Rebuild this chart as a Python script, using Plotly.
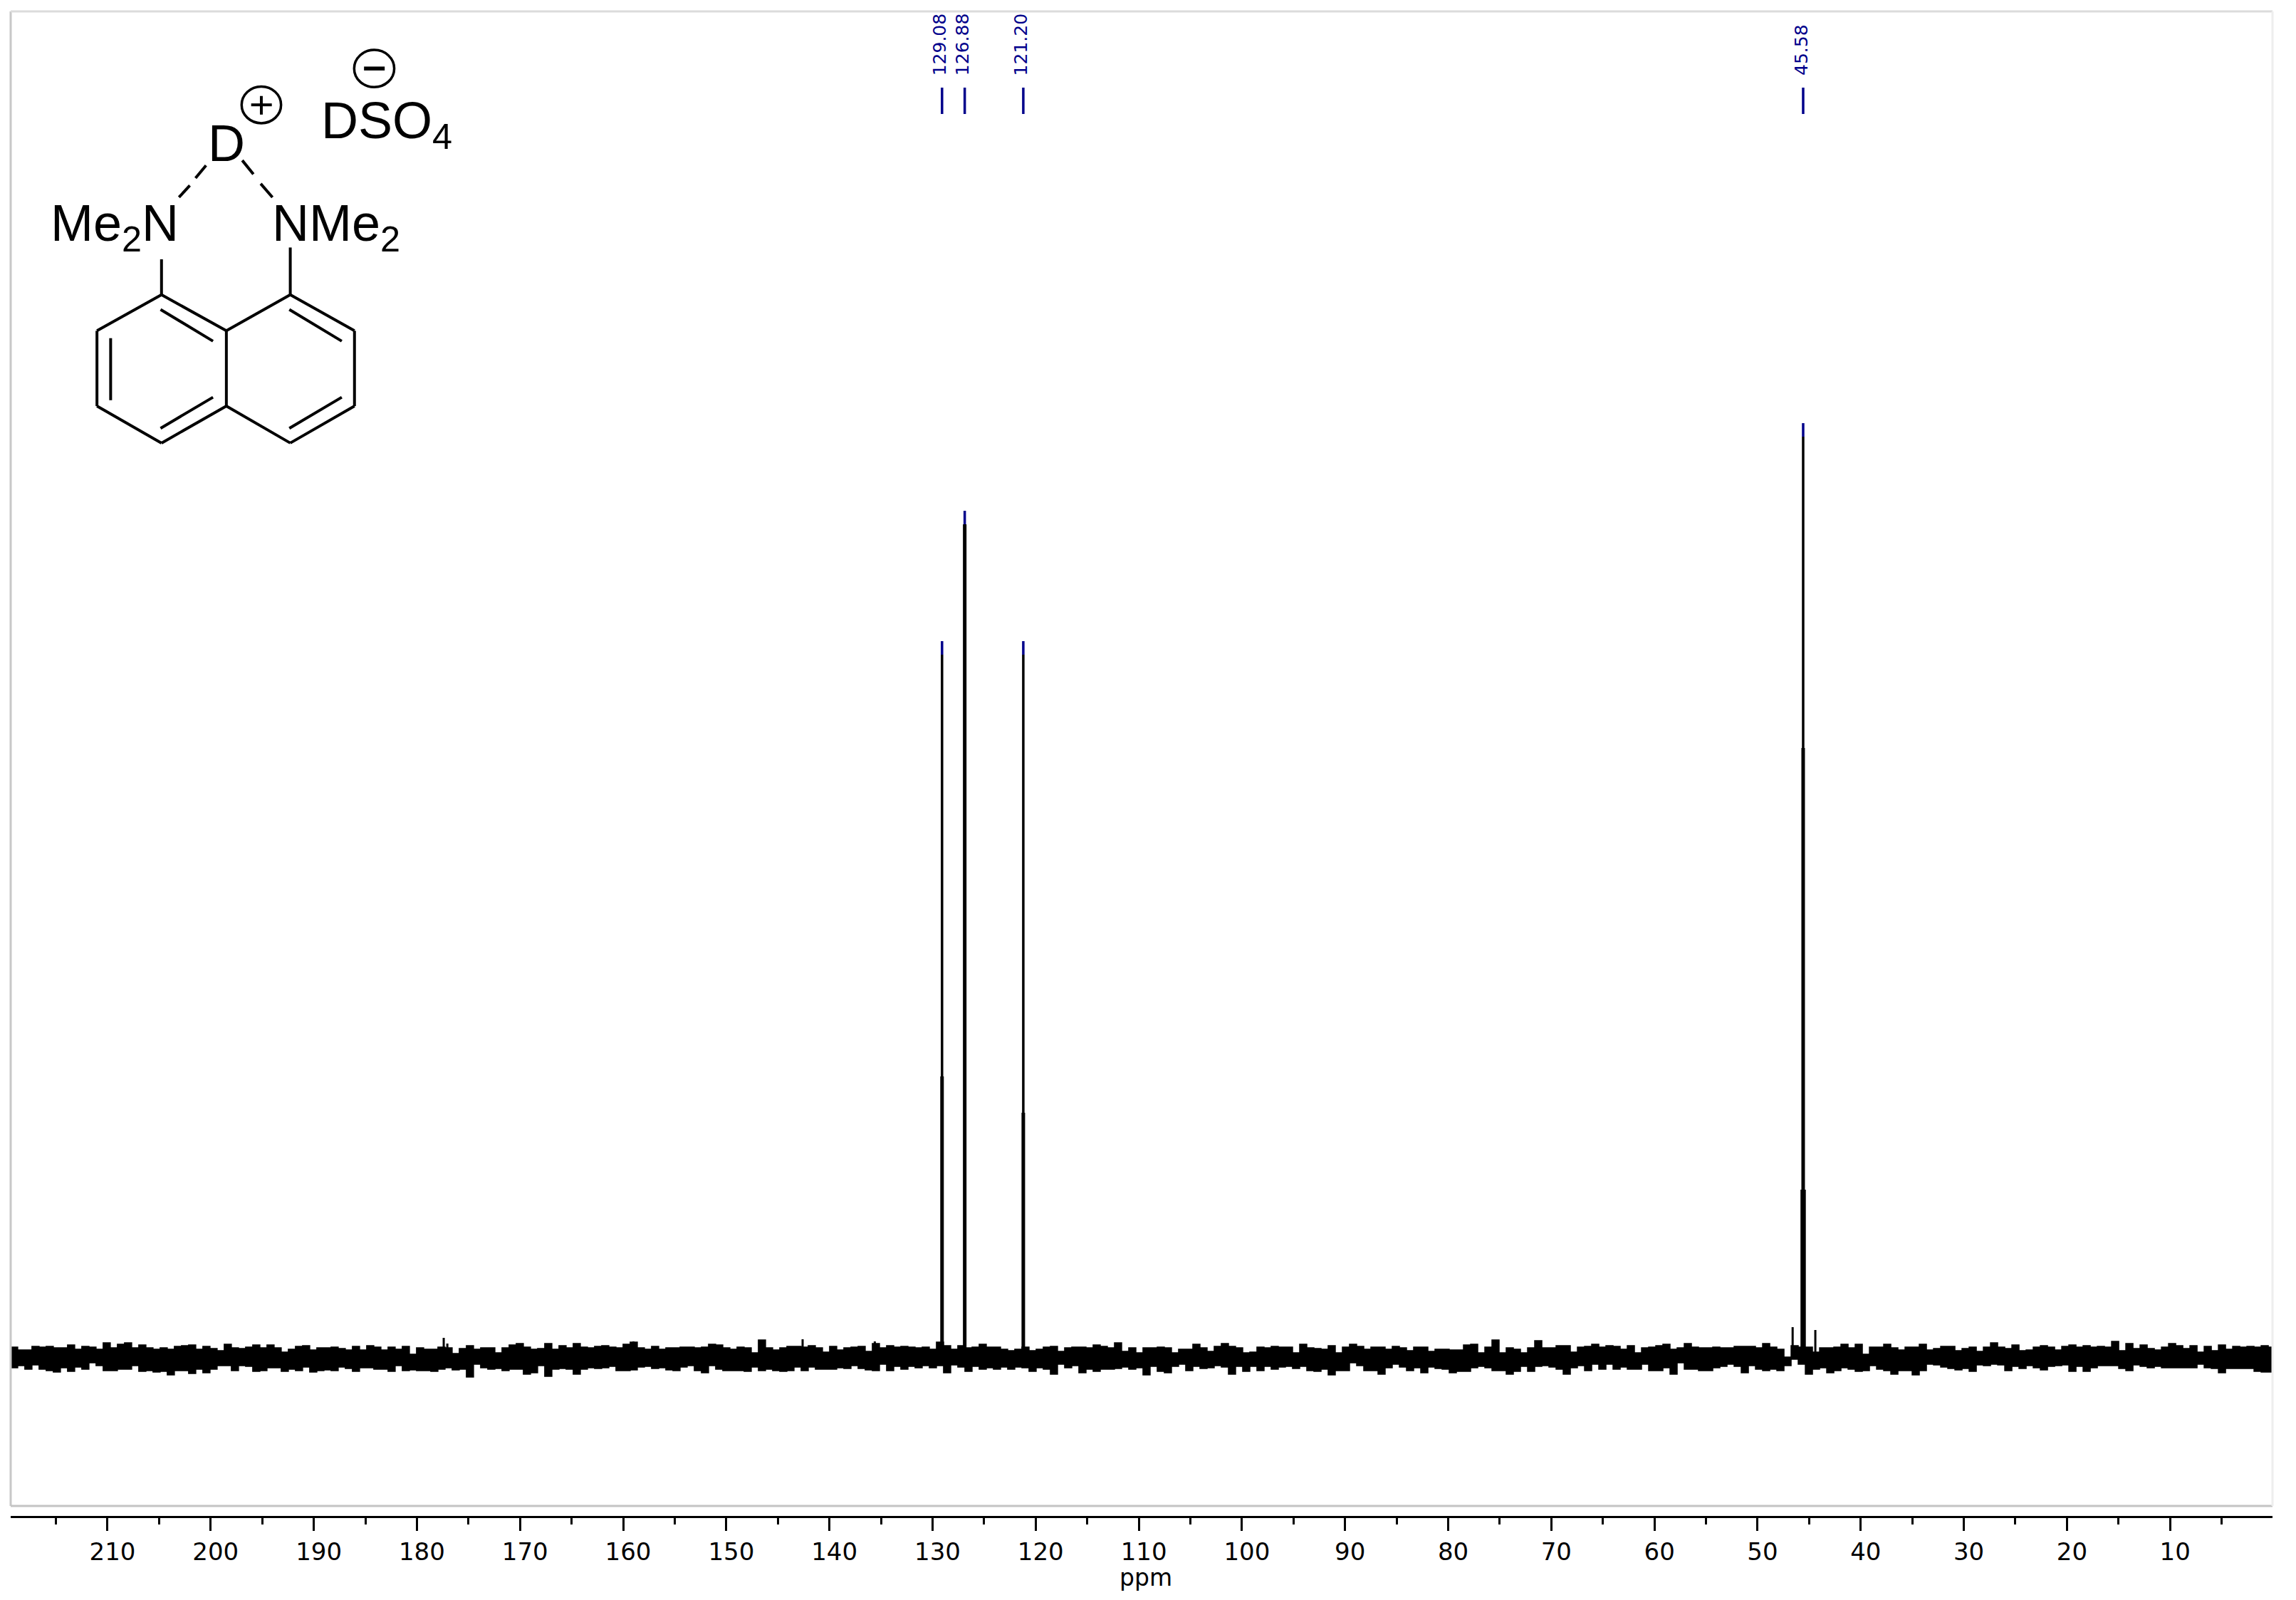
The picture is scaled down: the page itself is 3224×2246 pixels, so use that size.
import plotly.graph_objects as go

# ---------- data ----------
peak_ppm = [129.08, 126.88, 121.20, 45.58]
peak_height = [989, 1172, 989, 1295]
peak_labels = ["129.08", "126.88", "121.20", "45.58"]
base_height = [397, 1172, 346, 858]
foot_height = [0, 0, 0, 238]
spike_ppm = [177.4, 177.05, 159.0, 142.6, 135.6, 46.6, 44.4]
spike_height = [30, 22, 25, 28, 25, 45, 41]
tick_vals = [210, 200, 190, 180, 170, 160, 150, 140, 130, 120, 110, 100, 90, 80, 70, 60, 50, 40, 30, 20, 10]
tick_text = [str(v) for v in tick_vals]

noise_start_ppm = 219.40
noise_step_ppm = 0.6906
noise_upper = [
 17,13,13,18,17,18,16,16,20,14,18,17,14,23,16,21,23,16,20,16,14,16,14,18,19,20,14,18,15,12,21,16,15,17,20,16,20,16,10,14,18,19,13,16,16,17,15,13,18,13,19,17,13,17,
 14,18,7,16,14,14,17,16,8,15,19,14,16,16,9,16,20,22,17,14,15,22,14,19,16,22,17,16,18,19,17,16,21,24,16,14,18,14,16,16,17,17,16,17,21,20,16,14,17,16,9,27,16,13,
 16,18,18,17,19,16,10,18,13,16,17,18,11,22,16,19,17,18,17,16,17,14,24,19,14,19,16,17,21,17,17,14,12,14,17,12,14,17,18,11,16,17,17,16,20,18,16,23,11,16,9,16,16,17,
 16,9,14,14,21,16,11,18,22,18,16,9,10,17,16,18,17,17,9,21,16,15,14,19,9,17,21,18,14,17,17,14,18,16,12,17,17,11,14,14,13,13,20,21,9,17,27,9,16,14,9,16,26,16,
 16,19,19,10,17,18,21,17,19,18,14,19,9,16,17,19,21,14,16,22,17,16,16,17,16,16,18,18,18,16,22,17,14,3,19,17,17,10,16,16,17,21,16,21,7,17,17,21,16,13,17,17,21,13,
 15,18,18,12,15,17,11,17,23,17,15,20,12,13,17,19,17,13,18,20,17,19,17,18,17,25,12,22,15,20,15,13,17,22,19,15,19,10,18,12,20,14,18,17,18,17,19,17,
]
noise_lower = [
 -5,-12,-9,-14,-8,-14,-16,-18,-12,-17,-11,-14,-5,-9,-16,-16,-14,-14,-9,-17,-16,-18,-17,-22,-16,-16,-20,-14,-19,-14,-9,-9,-16,-9,-10,-17,-16,-12,-12,-17,-14,-16,-11,-18,-16,-15,-16,-11,-13,-17,-12,-12,-14,-14,
 -17,-9,-16,-15,-16,-16,-17,-14,-12,-15,-14,-25,-7,-12,-14,-13,-16,-14,-14,-21,-19,-9,-24,-14,-13,-14,-21,-14,-12,-13,-12,-10,-16,-16,-15,-11,-10,-13,-12,-15,-16,-11,-9,-16,-19,-9,-14,-16,-16,-16,-17,-11,-16,-14,
 -16,-17,-16,-11,-16,-11,-14,-14,-14,-12,-13,-9,-13,-15,-16,-7,-16,-10,-14,-10,-12,-9,-12,-9,-19,-8,-11,-17,-10,-14,-12,-14,-11,-14,-11,-12,-17,-12,-14,-21,-7,-12,-9,-19,-14,-17,-14,-14,-13,-11,-14,-12,-22,-10,
 -17,-19,-10,-7,-16,-10,-13,-12,-9,-11,-21,-10,-17,-10,-16,-10,-14,-11,-10,-13,-10,-16,-17,-14,-22,-16,-16,-5,-9,-16,-16,-21,-12,-7,-11,-16,-12,-19,-11,-13,-14,-19,-17,-17,-12,-10,-12,-16,-16,-21,-17,-10,-17,-10,
 -9,-11,-14,-21,-12,-9,-16,-7,-14,-7,-14,-11,-14,-14,-7,-16,-16,-12,-21,-5,-14,-14,-16,-16,-12,-10,-7,-10,-19,-9,-14,-16,-14,-16,-9,0,-7,-21,-14,-12,-19,-16,-12,-14,-17,-16,-9,-14,-16,-21,-16,-16,-22,-16,
 -7,-8,-11,-13,-15,-13,-17,-8,-9,-7,-8,-16,-10,-13,-9,-12,-15,-10,-9,-8,-17,-10,-17,-12,-9,-9,-9,-13,-16,-8,-10,-12,-10,-12,-12,-12,-12,-12,-7,-12,-13,-19,-13,-13,-13,-13,-17,-18,
]

# ---------- page geometry (the page body adds an 8 px margin) ----------
W, H = 3224, 2246
PAGE = 8
L, R, T, B = 15, 3191, 16, 2128
BLUE = "#00008b"


def px(x):
    return (x - L) / (R - L)


def py(y):
    return (B - y) / (B - T)


def zx(v):
    return px(v / 2.24)


def zy(v):
    return py(v / 2.412)


def segs(xs, tops, bottom=0):
    x, y = [], []
    for a, t in zip(xs, tops):
        if t <= bottom:
            continue
        x += [a, a, None]
        y += [bottom, t, None]
    return x, y


edges = [noise_start_ppm - noise_step_ppm * i for i in range(len(noise_upper) + 1)]
band_x = edges + edges[::-1]
band_y = noise_upper + [noise_upper[-1]] + [noise_lower[-1]] + noise_lower[::-1]

fig = go.Figure()
fig.add_trace(go.Scatter(x=band_x, y=band_y, mode="lines", line=dict(color="black", width=1.5, shape="hv"),
                         fill="toself", fillcolor="black", hoverinfo="skip", name="noise"))
fx, fy = segs(spike_ppm, spike_height)
fig.add_trace(go.Scatter(x=fx, y=fy, mode="lines", line=dict(color="black", width=3), name="spikes"))
fx, fy = segs(peak_ppm, peak_height)
fig.add_trace(go.Scatter(x=fx, y=fy, mode="lines", line=dict(color="black", width=3.5), name="peaks"))
fx, fy = segs(peak_ppm, base_height)
fig.add_trace(go.Scatter(x=fx, y=fy, mode="lines", line=dict(color="black", width=5), name="peak bases"))
fx, fy = segs(peak_ppm, foot_height)
fig.add_trace(go.Scatter(x=fx, y=fy, mode="lines", line=dict(color="black", width=7.5), name="peak feet"))

# blue peak tips and label ticks
tx, ty = [], []
for p, h in zip(peak_ppm, peak_height):
    tx += [p, p, None, p, p, None]
    ty += [h, h + 19, None, 1748, 1785, None]
fig.add_trace(go.Scatter(x=tx, y=ty, mode="lines", line=dict(color=BLUE, width=3.5), name="peak marks"))

ann = []
for p, lab in zip(peak_ppm, peak_labels):
    ann.append(dict(x=p, y=1800, xref="x", yref="y", text=lab, textangle=-90, showarrow=False, xshift=-3,
                    xanchor="center", yanchor="bottom", font=dict(family="DejaVu Sans", size=25, color=BLUE)))

shapes = []


def line(x0, y0, x1, y1, color="black", width=3):
    shapes.append(dict(type="line", xref="paper", yref="paper", x0=x0, y0=y0, x1=x1, y1=y1,
                       line=dict(color=color, width=width)))


# frame
line(px(15), py(16), px(15), py(2114), "#c8c8c8", 3)
line(px(15), py(16), px(3191), py(16), "#dcdcdc", 3)
line(px(15), py(2114), px(3191), py(2114), "#c4c4c4", 3)
line(px(3191), py(16), px(3191), py(2114), "#eeeeee", 3)

# molecule (traced in zoom-crop units)
bonds = [
    (508, 998, 712, 1120), (712, 1120, 712, 1375), (712, 1375, 508, 1500), (508, 1500, 305, 1375),
    (305, 1375, 305, 1120), (305, 1120, 508, 998),
    (712, 1120, 913, 998), (913, 998, 1115, 1120), (1115, 1120, 1115, 1375), (1115, 1375, 913, 1500),
    (913, 1500, 712, 1375),
    (505, 1048, 670, 1155), (348, 1145, 348, 1355), (505, 1450, 670, 1345),
    (910, 1048, 1075, 1155), (910, 1450, 1075, 1345),
    (508, 998, 508, 878), (913, 998, 913, 838),
    (563, 668, 597, 628), (615, 603, 648, 560), (762, 543, 797, 590), (820, 622, 857, 668),
    (790, 355, 855, 355), (822, 325, 822, 388),
]
for a, b, c, d in bonds:
    line(zx(a), zy(b), zx(c), zy(d), "black", 4)
line(zx(1145), zy(232), zx(1210), zy(232), "black", 5.5)
for cx, cy, r in [(822, 355, 62), (1177, 232, 63)]:
    shapes.append(dict(type="circle", xref="paper", yref="paper", x0=zx(cx - r), x1=zx(cx + r), y0=zy(cy - r), y1=zy(cy + r),
                       line=dict(color="black", width=3.5)))


def chem(text, x, y, size=72):
    ann.append(dict(x=zx(x), y=zy(y), xref="paper", yref="paper", text=text, showarrow=False, xanchor="left",
                    yanchor="middle", font=dict(family="Liberation Sans", size=size, color="black")))


chem("D", 650, 485)
chem("DSO<sub>4</sub>", 1005, 422)
chem("Me<sub>2</sub>N", 155, 768)
chem("NMe<sub>2</sub>", 852, 768)

ann.append(dict(x=px(1609), y=py(2214), xref="paper", yref="paper", text="ppm", showarrow=False,
                xanchor="center", yanchor="middle", font=dict(family="DejaVu Sans", size=33, color="black")))

fig.update_layout(
    width=W - 2 * PAGE, height=H - 2 * PAGE,
    margin=dict(l=L - PAGE, r=W - PAGE - R, t=T - PAGE, b=H - PAGE - B, autoexpand=False),
    paper_bgcolor="white", plot_bgcolor="white", showlegend=False,
    shapes=shapes, annotations=ann,
    xaxis=dict(range=[219.39, 0.07], tickmode="array", tickvals=tick_vals, ticktext=tick_text,
               ticks="outside", ticklen=18, tickwidth=2.5, tickcolor="black", ticklabelshift=-7, ticklabelstandoff=0,
               showline=True, linecolor="black", linewidth=3, showgrid=False, zeroline=False,
               tickfont=dict(family="DejaVu Sans", size=34, color="black"),
               minor=dict(tick0=5, dtick=10, ticks="outside", ticklen=9, tickwidth=3, tickcolor="black", showgrid=False)),
    yaxis=dict(range=[-220, 1892], visible=False),
)
fig.write_html("out.html")
